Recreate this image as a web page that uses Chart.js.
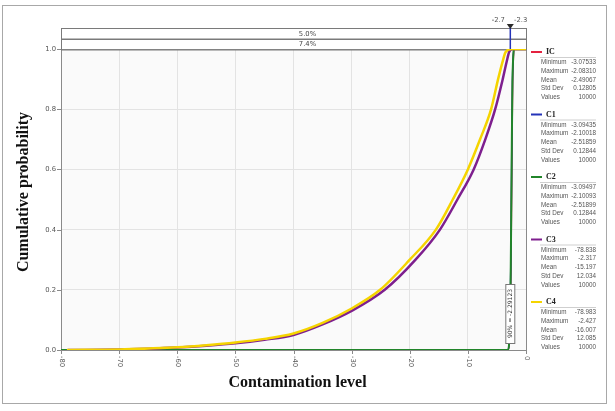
<!DOCTYPE html>
<html>
<head>
<meta charset="utf-8">
<script src="https://cdn.jsdelivr.net/npm/chart.js@4.4.1/dist/chart.umd.min.js"></script>
<style>
  body { margin: 0; background: #fff; }
  canvas { display: block; }
</style>
</head>
<body>
<canvas id="chart" width="615" height="411"></canvas>
<script>
// legend / stats panel
const seriesNames = ['IC', 'C1', 'C2', 'C3', 'C4'];
const seriesColors = ['#e4223f', '#2433b8', '#21852a', '#7e1f8e', '#f5d400'];
const statLabels = ['Minimum', 'Maximum', 'Mean', 'Std Dev', 'Values'];
const statsIC = ['-3.07533', '-2.08310', '-2.49067', '0.12805', '10000'];
const statsC1 = ['-3.09435', '-2.10018', '-2.51859', '0.12844', '10000'];
const statsC2 = ['-3.09497', '-2.10093', '-2.51899', '0.12844', '10000'];
const statsC3 = ['-78.838', '-2.317', '-15.197', '12.034', '10000'];
const statsC4 = ['-78.983', '-2.427', '-16.007', '12.085', '10000'];

// axes
const xTickValues = [-80, -70, -60, -50, -40, -30, -20, -10, 0];
const yTickValues = [0, 0.2, 0.4, 0.6, 0.8, 1.0];
const yTickLabels = ['0.0', '0.2', '0.4', '0.6', '0.8', '1.0'];

// delimiters and bands
const delimiterValues = [-2.7, -2.3];
const delimiterLabels = ['-2.7', '-2.3'];
const bandLabels = ['5.0%', '7.4%'];
const markerLabel = '90% = -2.29123';

// cumulative curves (level, probability)
const icLevel = [-80, -3.075, -2.85, -2.7, -2.6, -2.5, -2.4, -2.3, -2.15, -2.083, 0];
const icProb  = [0, 0, 0.03, 0.12, 0.26, 0.47, 0.71, 0.89, 0.98, 1, 1];
const c1Level = [-80, -3.094, -2.88, -2.73, -2.63, -2.53, -2.43, -2.33, -2.18, -2.100, 0];
const c1Prob  = [0, 0, 0.03, 0.12, 0.26, 0.47, 0.71, 0.89, 0.98, 1, 1];
const c2Level = [-80, -3.095, -2.88, -2.73, -2.63, -2.53, -2.43, -2.33, -2.18, -2.101, 0];
const c2Prob  = [0, 0, 0.03, 0.12, 0.26, 0.47, 0.71, 0.89, 0.98, 1, 1];
const c3Level = [-78.838, -70, -65, -60, -55, -50, -45, -40, -35, -30, -24.3, -19, -14.8, -11.8, -9.0, -7.0, -5.3, -4.0, -3.3, -2.9, -2.317, 0];
const c3Prob  = [0, 0.0015, 0.004, 0.008, 0.014, 0.022, 0.034, 0.05, 0.085, 0.13, 0.2, 0.3, 0.4, 0.5, 0.6, 0.7, 0.8, 0.9, 0.96, 0.99, 1, 1];
const c4Level = [-78.983, -70, -65, -60, -55, -50, -45, -40, -35, -30, -25.1, -20, -15.5, -12.6, -10.0, -7.9, -6.0, -4.8, -4.0, -3.5, -2.427, 0];
const c4Prob  = [0, 0.002, 0.005, 0.009, 0.016, 0.025, 0.037, 0.055, 0.09, 0.138, 0.2, 0.3, 0.4, 0.5, 0.6, 0.7, 0.8, 0.9, 0.96, 0.99, 1, 1];

const allStats = [statsIC, statsC1, statsC2, statsC3, statsC4];

function points(levels, probs) {
  return levels.map((x, i) => ({ x: x, y: probs[i] }));
}

function curve(i, levels, probs, width, order) {
  return {
    label: seriesNames[i],
    data: points(levels, probs),
    borderColor: seriesColors[i],
    backgroundColor: seriesColors[i],
    borderWidth: width,
    pointRadius: 0,
    fill: false,
    cubicInterpolationMode: 'monotone',
    order: order,
  };
}

const decorations = {
  id: 'decorations',
  beforeDraw(chart) {
    const { ctx, chartArea: a } = chart;
    ctx.save();
    ctx.fillStyle = '#fafafa';
    ctx.fillRect(a.left, a.top, a.right - a.left, a.bottom - a.top);
    ctx.restore();
  },
  beforeDatasetsDraw(chart) {
    const { ctx, chartArea: a } = chart;
    const xs = chart.scales.x;
    const ys = chart.scales.y;
    ctx.save();
    // plot frame
    ctx.strokeStyle = '#8a8a8a';
    ctx.lineWidth = 1;
    ctx.strokeRect(a.left + 0.5, a.top + 0.5, a.right - a.left, a.bottom - a.top);

    // tick marks and labels
    ctx.fillStyle = '#555';
    ctx.font = '6.8px "DejaVu Sans"';
    ctx.textAlign = 'right';
    ctx.textBaseline = 'middle';
    yTickValues.forEach((v, i) => {
      const y = Math.round(ys.getPixelForValue(v)) + 0.5;
      ctx.beginPath();
      ctx.moveTo(a.left - 4, y);
      ctx.lineTo(a.left, y);
      ctx.stroke();
      ctx.fillText(yTickLabels[i], a.left - 5, y);
    });
    xTickValues.forEach(v => {
      const x = Math.round(xs.getPixelForValue(v)) + 0.5;
      ctx.beginPath();
      ctx.moveTo(x, a.bottom);
      ctx.lineTo(x, a.bottom + 4);
      ctx.stroke();
      ctx.save();
      ctx.translate(x, a.bottom + 6);
      ctx.rotate(Math.PI / 2);
      ctx.textAlign = 'left';
      ctx.fillText(String(v), 0, 0);
      ctx.restore();
    });

    // bands above the plot
    const bandH = 10.5;
    ctx.strokeStyle = '#7a7a7a';
    for (let i = 0; i < bandLabels.length; i++) {
      const top = a.top - bandH * (bandLabels.length - i);
      ctx.strokeRect(a.left + 0.5, Math.round(top) + 0.5, a.right - a.left, bandH);
      ctx.fillStyle = '#444';
      ctx.textAlign = 'center';
      ctx.fillText(bandLabels[i], (a.left + a.right) / 2 + 14, top + bandH / 2 + 0.5);
    }

    // delimiter marker
    const bandTop = a.top - bandH * bandLabels.length;
    const dx = xs.getPixelForValue(delimiterValues[0]);
    ctx.strokeStyle = '#2433b8';
    ctx.lineWidth = 1.5;
    ctx.beginPath();
    ctx.moveTo(dx, bandTop);
    ctx.lineTo(dx, a.top);
    ctx.stroke();
    ctx.fillStyle = '#2b2b2b';
    ctx.beginPath();
    ctx.moveTo(dx - 3.5, bandTop - 4);
    ctx.lineTo(dx + 3.5, bandTop - 4);
    ctx.lineTo(dx, bandTop + 1);
    ctx.closePath();
    ctx.fill();
    ctx.fillStyle = '#555';
    ctx.font = '6.8px "DejaVu Sans"';
    ctx.textAlign = 'center';
    ctx.fillText(delimiterLabels[0], dx - 12, bandTop - 8);
    ctx.fillText(delimiterLabels[1], xs.getPixelForValue(delimiterValues[1]) + 8, bandTop - 8);
    ctx.restore();
  },
  afterDatasetsDraw(chart) {
    const { ctx, chartArea: a } = chart;
    const xs = chart.scales.x;
    ctx.save();

    // rotated marker label
    const mx = xs.getPixelForValue(delimiterValues[0]);
    ctx.fillStyle = '#fff';
    ctx.strokeStyle = '#777';
    ctx.lineWidth = 1;
    ctx.fillRect(mx - 5, 284, 9, 59);
    ctx.strokeRect(mx - 4.5, 284.5, 9, 59);
    ctx.translate(mx, 313.5);
    ctx.rotate(-Math.PI / 2);
    ctx.fillStyle = '#333';
    ctx.font = '6px "DejaVu Sans"';
    ctx.textAlign = 'center';
    ctx.textBaseline = 'middle';
    ctx.fillText(markerLabel, 0, 0);
    ctx.restore();

    ctx.save();
    // outer frame
    ctx.strokeStyle = '#a8a8a8';
    ctx.lineWidth = 1;
    ctx.strokeRect(2.5, 5.5, 604, 398);

    // axis titles
    ctx.fillStyle = '#111';
    ctx.font = 'bold 16px "Liberation Serif"';
    ctx.textAlign = 'center';
    ctx.textBaseline = 'middle';
    ctx.fillText('Contamination level', (a.left + a.right) / 2 + 4, 383);
    ctx.save();
    ctx.translate(24, 192);
    ctx.rotate(-Math.PI / 2);
    ctx.fillText('Cumulative probability', 0, 0);
    ctx.restore();

    // stats legend
    seriesNames.forEach((name, i) => {
      const hy = 52 + i * 62.5;
      ctx.strokeStyle = seriesColors[i];
      ctx.lineWidth = 2;
      ctx.beginPath();
      ctx.moveTo(531, hy);
      ctx.lineTo(542, hy);
      ctx.stroke();
      ctx.fillStyle = '#222';
      ctx.font = 'bold 8px "Liberation Serif"';
      ctx.textAlign = 'left';
      ctx.fillText(name, 546, hy);
      ctx.strokeStyle = '#cfcfcf';
      ctx.lineWidth = 1;
      ctx.beginPath();
      ctx.moveTo(540, hy + 5.5);
      ctx.lineTo(596, hy + 5.5);
      ctx.stroke();
      ctx.font = '6.3px "Liberation Sans"';
      ctx.fillStyle = '#555';
      statLabels.forEach((lab, r) => {
        const ry = hy + 10.5 + r * 8.7;
        ctx.textAlign = 'left';
        ctx.fillText(lab, 541, ry);
        ctx.textAlign = 'right';
        ctx.fillText(allStats[i][r], 596, ry);
      });
    });
    ctx.restore();
  },
};

new Chart(document.getElementById('chart'), {
  type: 'line',
  data: {
    datasets: [
      curve(0, icLevel, icProb, 1.5, 5),
      curve(1, c1Level, c1Prob, 1.5, 4),
      curve(2, c2Level, c2Prob, 2, 3),
      curve(3, c3Level, c3Prob, 2.5, 2),
      curve(4, c4Level, c4Prob, 2.5, 1),
    ],
  },
  options: {
    responsive: false,
    animation: false,
    devicePixelRatio: 1,
    layout: { padding: { left: 61, right: 89, top: 49, bottom: 61 } },
    plugins: { legend: { display: false }, tooltip: { enabled: false } },
    scales: {
      x: {
        type: 'linear',
        min: -80,
        max: 0,
        afterBuildTicks: s => { s.ticks = xTickValues.map(v => ({ value: v })); },
        ticks: { display: false },
        grid: { color: '#e3e3e3', drawTicks: false },
        border: { display: false },
      },
      y: {
        min: 0,
        max: 1,
        afterBuildTicks: s => { s.ticks = yTickValues.map(v => ({ value: v })); },
        ticks: { display: false },
        grid: { color: '#e3e3e3', drawTicks: false },
        border: { display: false },
      },
    },
  },
  plugins: [decorations],
});
</script>
</body>
</html>
